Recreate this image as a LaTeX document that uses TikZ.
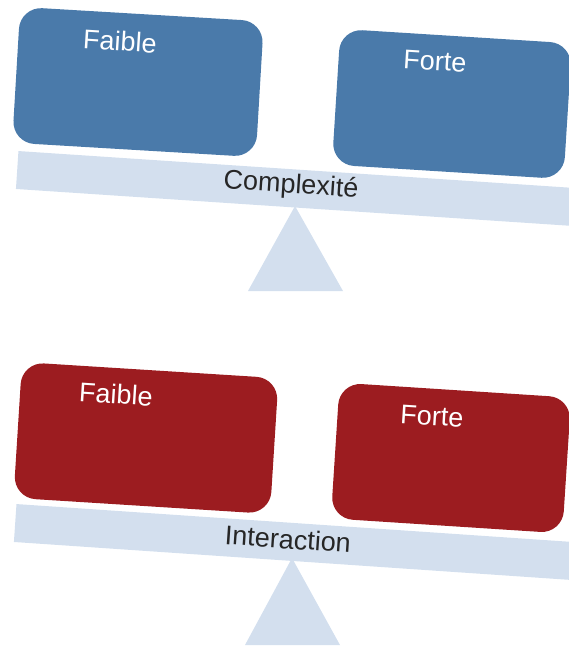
\documentclass[tikz,border=0pt]{standalone}
\usepackage{fontspec}
\setmainfont{Liberation Sans}
\begin{document}
\begin{tikzpicture}[x=1pt,y=-1pt]
\tikzset{box/.style = {shape=rectangle,rounded corners=22pt,minimum height=136pt,inner sep=0pt}}
\tikzset{beam/.style = {shape=rectangle,fill=beamcol,minimum width=620pt,minimum height=38pt,inner sep=0pt,anchor=west}}
\tikzset{word/.style = {font=\fontsize{27}{31}\selectfont,inner sep=0pt}}
\definecolor{bluebox}{RGB}{74,122,170}
\definecolor{redbox}{RGB}{156,28,32}
\definecolor{beamcol}{RGB}{211,223,238}
\useasboundingbox (0,0) rectangle (569,649);
\clip (0,0) rectangle (569,649);
\node[beam, rotate=-3.8] (beam_0) at (17,170) {};
\node[beam, rotate=-3.9] (beam_1) at (15,523) {};
\fill[beamcol] (295,206) -- (343,291) -- (248,291) -- cycle;
\fill[beamcol] (292,558) -- (340,645) -- (245,645) -- cycle;
\node[box, fill=bluebox, minimum width=244pt, rotate=-3.4] (box_0_1) at (138,82) {};
\node[box, fill=bluebox, minimum width=232pt, rotate=-3.6] (box_0_2) at (452,104) {};
\node[box, fill=redbox, minimum width=257pt, rotate=-3.6] (box_1_1) at (146,438) {};
\node[box, fill=redbox, minimum width=232pt, rotate=-3.7] (box_1_2) at (451,458) {};
\node[word, white, rotate=-3.6] (t_0_1) at (120,41) {Faible};
\node[word, white, rotate=-3.6] (t_0_2) at (435,61) {Forte};
\node[word, black!85, rotate=-3.8] (t_0_3) at (291,186) {Complexité};
\node[word, white, rotate=-3.6] (t_1_1) at (116,394) {Faible};
\node[word, white, rotate=-3.6] (t_1_2) at (432,416) {Forte};
\node[word, black!85, rotate=-3.9] (t_1_3) at (288,539) {Interaction};
\end{tikzpicture}
\end{document}
